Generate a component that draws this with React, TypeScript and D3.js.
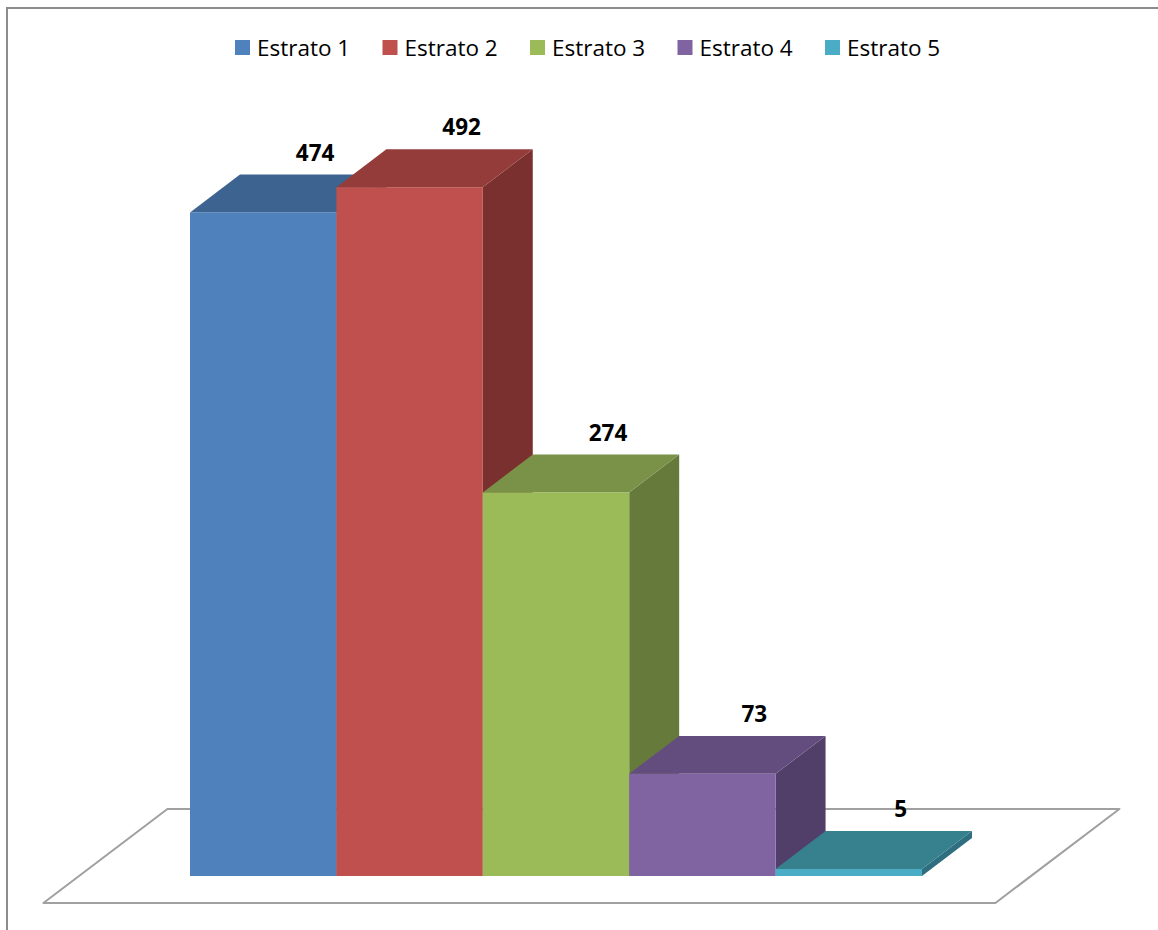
import * as d3 from 'd3';
import React, { useEffect, useRef } from 'react';

// data
const series = ['Estrato 1', 'Estrato 2', 'Estrato 3', 'Estrato 4', 'Estrato 5'];
const values = [474, 492, 274, 73, 5];

// office 2007 palette: front / top / side shades
const frontColors = ['#4F81BD', '#C0504D', '#9BBB59', '#8064A2', '#4BACC6'];
const topColors = ['#3D6390', '#943C3A', '#799248', '#634D7F', '#37818F'];
const sideColors = ['#335479', '#7A302F', '#667A3B', '#523F69', '#2E6E7E'];

const W = 1158;
const H = 930;

const App = () => {
  const ref = useRef<SVGSVGElement>(null);

  useEffect(() => {
    const svg = d3.select(ref.current);
    svg.selectAll('*').remove();

    svg.append('rect').attr('width', W).attr('height', H).attr('fill', '#fff');

    // chart border (runs off to the right and bottom)
    svg.append('rect')
      .attr('x', 7).attr('y', 8)
      .attr('width', W + 20).attr('height', H + 20)
      .attr('fill', 'none')
      .attr('stroke', '#8c8c8c')
      .attr('stroke-width', 2);

    // 3d projection: full floor depth vector, and where the bars sit in it
    const depth = { dx: 124, dy: -94 };
    const barFront = 0.287;
    const barBack = 0.69;
    const bd = { dx: depth.dx * (barBack - barFront), dy: depth.dy * (barBack - barFront) };

    const plotLeft = 79;
    const plotRight = 1031;
    const baseY = 876;

    const x = d3.scaleBand<string>()
      .domain(series)
      .range([plotLeft + 111, plotRight - 109])
      .padding(0);

    const y = d3.scaleLinear().domain([0, 500]).range([baseY, baseY - 700]);

    // floor
    const f0 = { dx: -depth.dx * barFront, dy: -depth.dy * barFront };
    const f1 = { dx: depth.dx * (1 - barFront), dy: depth.dy * (1 - barFront) };
    const floor = [
      [plotLeft + f0.dx, baseY + f0.dy],
      [plotRight + f0.dx, baseY + f0.dy],
      [plotRight + f1.dx, baseY + f1.dy],
      [plotLeft + f1.dx, baseY + f1.dy],
    ];
    svg.append('polygon')
      .attr('points', floor.map(p => p.join(',')).join(' '))
      .attr('fill', 'none')
      .attr('stroke', '#a0a0a0')
      .attr('stroke-width', 2)
      .attr('stroke-linejoin', 'round');

    const pts = (arr: number[][]) => arr.map(p => p.join(',')).join(' ');

    const bars = svg.append('g');
    series.forEach((s, i) => {
      const x0 = x(s)!;
      const x1 = x0 + x.bandwidth();
      const yt = y(values[i]);
      const g = bars.append('g');
      // side
      g.append('polygon')
        .attr('points', pts([[x1, baseY], [x1 + bd.dx, baseY + bd.dy], [x1 + bd.dx, yt + bd.dy], [x1, yt]]))
        .attr('fill', sideColors[i]);
      // top
      g.append('polygon')
        .attr('points', pts([[x0, yt], [x1, yt], [x1 + bd.dx, yt + bd.dy], [x0 + bd.dx, yt + bd.dy]]))
        .attr('fill', topColors[i]);
      // front
      g.append('rect')
        .attr('x', x0).attr('y', yt)
        .attr('width', x.bandwidth()).attr('height', baseY - yt)
        .attr('fill', frontColors[i]);
    });

    // value labels above the back of each bar top
    svg.append('g').selectAll('text')
      .data(values)
      .enter().append('text')
      .attr('x', (d, i) => x(series[i])! + x.bandwidth() / 2 + bd.dx + 2)
      .attr('y', d => y(d) + bd.dy - 14)
      .attr('text-anchor', 'middle')
      .attr('font-family', '"Open Sans", sans-serif')
      .attr('font-weight', 'bold')
      .attr('font-size', 22.5)
      .attr('fill', '#000')
      .text(d => d);

    // legend
    const legend = d3.scaleBand<string>().domain(series).range([235, 235 + 147.5 * 5]);
    const items = svg.append('g').selectAll('g')
      .data(series)
      .enter().append('g')
      .attr('transform', d => `translate(${legend(d)},40)`);
    items.append('rect')
      .attr('width', 15).attr('height', 15)
      .attr('fill', (d, i) => frontColors[i]);
    items.append('text')
      .attr('x', 22).attr('y', 16)
      .attr('font-family', '"Open Sans", sans-serif')
      .attr('font-size', 22.5)
      .attr('fill', '#000')
      .text(d => d);
  }, []);

  return (
    <svg ref={ref} width={W} height={H}
      style={{ position: 'absolute', left: 0, top: 0, display: 'block' }} />
  );
};

export default App;
